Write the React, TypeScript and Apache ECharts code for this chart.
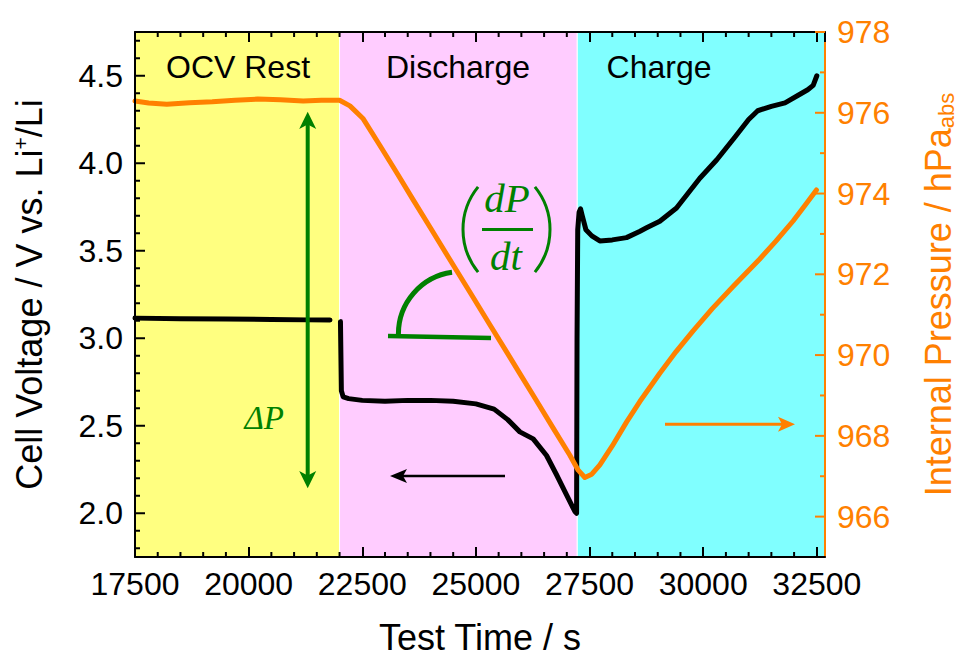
import React, { useEffect, useRef } from "react";
import * as echarts from "echarts";

// ---- data ----
const ocvTime = [17500, 18500, 19500, 20500, 21300, 21790];
const ocvVoltage = [3.115, 3.112, 3.11, 3.107, 3.105, 3.104];

const cycleTime = [
  22020, 22030, 22040, 22080, 22200, 22500, 23000, 23500, 24000, 24500, 25000,
  25400, 25700, 25967, 26260, 26554, 26774, 26994, 27177, 27215, 27225, 27240,
  27270, 27302, 27340, 27420, 27550, 27726, 28000, 28313, 28600, 28754, 29046,
  29413, 29926, 30300, 30700, 31000, 31200, 31500, 31800, 32100, 32300, 32420,
  32500,
];
const cycleVoltage = [
  3.095, 2.9, 2.7, 2.665, 2.655, 2.645, 2.64, 2.645, 2.645, 2.64, 2.625, 2.595,
  2.535, 2.465, 2.425, 2.33, 2.22, 2.105, 2.01, 2.0, 3.0, 3.62, 3.72, 3.74, 3.7,
  3.62, 3.585, 3.556, 3.562, 3.575, 3.61, 3.631, 3.669, 3.744, 3.914, 4.02,
  4.15, 4.25, 4.3, 4.325, 4.345, 4.39, 4.42, 4.445, 4.5,
];

const pressureTime = [
  17500, 17800, 18200, 18700, 19200, 19700, 20200, 20700, 21200, 21600, 22000,
  22228, 22521, 22888, 23255, 23600, 23988, 24500, 24900, 25307, 25675, 25967,
  26300, 26700, 27067, 27250, 27397, 27550, 27727, 28000, 28313, 28606, 29046,
  29400, 29778, 30200, 30658, 31245, 31600, 31978, 32250, 32492,
];
const pressureValue = [
  976.29, 976.24, 976.21, 976.25, 976.27, 976.31, 976.34, 976.32, 976.29,
  976.31, 976.31, 976.17, 975.85, 975.19, 974.52, 973.88, 973.17, 972.23, 971.5,
  970.75, 970.08, 969.54, 968.93, 968.19, 967.52, 967.15, 966.97, 967.05, 967.28,
  967.75, 968.34, 968.85, 969.55, 970.08, 970.6, 971.15, 971.7, 972.38, 972.82,
  973.32, 973.72, 974.09,
];

const bandStarts = [17500, 22000, 27230];
const bandEnds = [22000, 27230, 32680];
const bandNames = ["OCV Rest", "Discharge", "Charge"];
const bandColors = ["#FFFF80", "#FFCCFF", "#80FFFF"];

const xTickLabels = [17500, 20000, 22500, 25000, 27500, 30000, 32500];
const xMinorTicks = [
  18000, 18500, 19000, 19500, 20500, 21000, 21500, 22000, 23000, 23500, 24000,
  24500, 25500, 26000, 26500, 27000, 28000, 28500, 29000, 29500, 30500, 31000,
  31500, 32000,
];
const leftTickLabels = [2.0, 2.5, 3.0, 3.5, 4.0, 4.5];
const leftMinorTicks = [
  1.8, 1.9, 2.1, 2.2, 2.3, 2.4, 2.6, 2.7, 2.8, 2.9, 3.1, 3.2, 3.3, 3.4, 3.6,
  3.7, 3.8, 3.9, 4.1, 4.2, 4.3, 4.4, 4.6, 4.7,
];
const rightTickLabels = [966, 968, 970, 972, 974, 976, 978];
const rightMinorTicks = [967, 969, 971, 973, 975, 977];

const FONT = "'Liberation Sans', Arial, sans-serif";
const MATH = "'Liberation Serif', 'DejaVu Serif', serif";
const ORANGE = "#FF8000";
const GREEN = "#008000";
const MAJOR_LEN = 10;
const MINOR_LEN = 5;

function zip(a: number[], b: number[]) {
  return a.map((v, i) => [v, b[i]]);
}

export default function App() {
  const ref = useRef<HTMLDivElement>(null);
  useEffect(() => {
    if (!ref.current) return;
    const chart = echarts.init(ref.current, null, { renderer: "svg" });

    const X_MIN = 17500;
    const X_MAX = 32680;
    const Y_MIN = 1.75;
    const Y_MAX = 4.75;
    const P_MIN = 965;
    const P_MAX = 978;

    const annotations: any[] = [
      // region labels
      { type: "text", x: 238, y: 67, z: 50, style: { text: bandNames[0], fontFamily: FONT, fontSize: 32, fill: "#000", align: "center", verticalAlign: "middle" } },
      { type: "text", x: 458, y: 67, z: 50, style: { text: bandNames[1], fontFamily: FONT, fontSize: 32, fill: "#000", align: "center", verticalAlign: "middle" } },
      { type: "text", x: 659, y: 67, z: 50, style: { text: bandNames[2], fontFamily: FONT, fontSize: 32, fill: "#000", align: "center", verticalAlign: "middle" } },
      // ΔP double arrow
      { type: "line", z: 50, shape: { x1: 307.7, y1: 124, x2: 307.7, y2: 476 }, style: { stroke: GREEN, lineWidth: 4 } },
      { type: "polygon", z: 50, shape: { points: [[307.7, 111.7], [316.2, 129], [307.7, 124.5], [299.2, 129]] }, style: { fill: GREEN } },
      { type: "polygon", z: 50, shape: { points: [[307.7, 488.3], [316.2, 471], [307.7, 475.5], [299.2, 471]] }, style: { fill: GREEN } },
      { type: "text", x: 284, y: 418, z: 50, style: { text: "ΔP", fontFamily: MATH, fontStyle: "italic", fontSize: 33, fill: GREEN, align: "right", verticalAlign: "middle" } },
      // slope angle
      { type: "line", z: 50, shape: { x1: 388, y1: 336, x2: 491, y2: 338 }, style: { stroke: GREEN, lineWidth: 4.5 } },
      { type: "arc", z: 50, shape: { cx: 460.7, cy: 334, r: 62.3, startAngle: Math.PI, endAngle: (262 * Math.PI) / 180, clockwise: true }, style: { stroke: GREEN, lineWidth: 5, fill: null } },
      // (dP/dt)
      { type: "arc", z: 50, shape: { cx: 530.7, cy: 229.5, r: 67.7, startAngle: (141 * Math.PI) / 180, endAngle: (219 * Math.PI) / 180, clockwise: true }, style: { stroke: GREEN, lineWidth: 3, fill: null } },
      { type: "arc", z: 50, shape: { cx: 482.3, cy: 229.5, r: 67.7, startAngle: (-39 * Math.PI) / 180, endAngle: (39 * Math.PI) / 180, clockwise: true }, style: { stroke: GREEN, lineWidth: 3, fill: null } },
      { type: "text", x: 507, y: 198, z: 50, style: { text: "dP", fontFamily: MATH, fontStyle: "italic", fontSize: 41, fill: GREEN, align: "center", verticalAlign: "middle" } },
      { type: "rect", z: 50, shape: { x: 482, y: 228, width: 51, height: 3 }, style: { fill: GREEN } },
      { type: "text", x: 506, y: 256, z: 50, style: { text: "dt", fontFamily: MATH, fontStyle: "italic", fontSize: 41, fill: GREEN, align: "center", verticalAlign: "middle" } },
      // black arrow (voltage -> left axis)
      { type: "line", z: 50, shape: { x1: 400, y1: 476, x2: 505, y2: 476 }, style: { stroke: "#000", lineWidth: 2.5 } },
      { type: "polygon", z: 50, shape: { points: [[390, 476], [407, 469], [403, 476], [407, 483]] }, style: { fill: "#000" } },
      // orange arrow (pressure -> right axis)
      { type: "line", z: 50, shape: { x1: 665, y1: 424.3, x2: 785, y2: 424.3 }, style: { stroke: ORANGE, lineWidth: 3 } },
      { type: "polygon", z: 50, shape: { points: [[795, 424.3], [778, 416.8], [782, 424.3], [778, 431.8]] }, style: { fill: ORANGE } },
    ];

    const option: any = {
      animation: false,
      backgroundColor: "#fff",
      grid: { left: 135, right: 142, top: 32, bottom: 97, containLabel: false },
      xAxis: [
        {
          type: "value",
          position: "bottom",
          min: X_MIN,
          max: X_MAX,
          interval: 2500,
          z: 10,
          splitLine: { show: false },
          axisLine: { show: true, onZero: false, lineStyle: { color: "#000", width: 2 } },
          axisTick: { show: true, inside: true, length: MAJOR_LEN, lineStyle: { color: "#000", width: 2 } },
          axisLabel: {
            show: true,
            showMaxLabel: false,
            margin: 11,
            fontFamily: FONT,
            fontSize: 32,
            color: "#000",
            formatter: (v: number) => String(v),
          },
          name: "Test Time / s",
          nameLocation: "middle",
          nameGap: 62,
          nameTextStyle: { fontFamily: FONT, fontSize: 36, color: "#000" },
        },
        {
          type: "value",
          position: "top",
          min: X_MIN,
          max: X_MAX,
          interval: 2500,
          z: 10,
          splitLine: { show: false },
          axisLine: { show: true, onZero: false, lineStyle: { color: "#000", width: 2 } },
          axisTick: { show: true, inside: true, length: MAJOR_LEN, lineStyle: { color: "#000", width: 2 } },
          axisLabel: { show: false },
        },
      ],
      yAxis: [
        {
          type: "value",
          position: "left",
          min: Y_MIN,
          max: Y_MAX,
          z: 10,
          splitLine: { show: false },
          axisLine: { show: true, onZero: false, lineStyle: { color: "#000", width: 2 } },
          axisTick: { show: false },
          axisLabel: {
            show: true,
            customValues: leftTickLabels,
            margin: 12,
            fontFamily: FONT,
            fontSize: 32,
            color: "#000",
            formatter: (v: number) => v.toFixed(1),
          },
          name: "Cell Voltage / V vs. Li{sup|+}/Li",
          nameLocation: "middle",
          nameRotate: 90,
          nameGap: 88,
          nameTextStyle: {
            fontFamily: FONT,
            fontSize: 36,
            color: "#000",
            rich: {
              sup: { fontFamily: FONT, fontSize: 21, color: "#000", lineHeight: 21, padding: [0, 0, 18, 0] },
            },
          },
        },
        {
          type: "value",
          position: "right",
          min: P_MIN,
          max: P_MAX,
          z: 10,
          splitLine: { show: false },
          axisLine: { show: true, onZero: false, lineStyle: { color: ORANGE, width: 2 } },
          axisTick: { show: false },
          axisLabel: {
            show: true,
            customValues: rightTickLabels,
            margin: 12,
            fontFamily: FONT,
            fontSize: 32,
            color: ORANGE,
            formatter: (v: number) => String(v),
          },
          name: "Internal Pressure / hPa{sub|abs}",
          nameLocation: "middle",
          nameRotate: 90,
          nameGap: 95,
          nameTextStyle: {
            fontFamily: FONT,
            fontSize: 36,
            color: ORANGE,
            rich: {
              sub: { fontFamily: FONT, fontSize: 22, color: ORANGE, lineHeight: 22, padding: [16, 0, 0, 0] },
            },
          },
        },
      ],
      series: [
        {
          name: "bands",
          type: "line",
          xAxisIndex: 0,
          yAxisIndex: 0,
          data: [[X_MIN, 3]],
          symbol: "none",
          lineStyle: { width: 0 },
          z: 1,
          silent: true,
          markArea: {
            silent: true,
            label: { show: false },
            data: bandStarts.map((s, i) => [
              { xAxis: s, itemStyle: { color: bandColors[i], borderColor: "#fff", borderWidth: 1 } },
              { xAxis: bandEnds[i] },
            ]),
          },
        },
        {
          name: "Cell Voltage (OCV)",
          type: "line",
          xAxisIndex: 0,
          yAxisIndex: 0,
          data: zip(ocvTime, ocvVoltage),
          symbol: "none",
          lineStyle: { color: "#000", width: 5, cap: "round", join: "round" },
          z: 3,
        },
        {
          name: "Cell Voltage",
          type: "line",
          xAxisIndex: 0,
          yAxisIndex: 0,
          data: zip(cycleTime, cycleVoltage),
          symbol: "none",
          lineStyle: { color: "#000", width: 5, cap: "round", join: "round" },
          z: 3,
        },
        {
          name: "Internal Pressure",
          type: "line",
          xAxisIndex: 0,
          yAxisIndex: 1,
          data: zip(pressureTime, pressureValue),
          symbol: "none",
          lineStyle: { color: ORANGE, width: 5, cap: "round", join: "round" },
          z: 4,
        },
      ],
      graphic: annotations,
    };

    chart.setOption(option);

    // inside tick marks, placed through the axes' own scales
    const toNum = (r: any) => (Array.isArray(r) ? r[0] : r) as number;
    const px = (v: number) => toNum(chart.convertToPixel({ xAxisIndex: 0 } as any, v as any));
    const pyL = (v: number) => toNum(chart.convertToPixel({ yAxisIndex: 0 } as any, v as any));
    const pyR = (v: number) => toNum(chart.convertToPixel({ yAxisIndex: 1 } as any, v as any));
    const top = pyL(Y_MAX);
    const bottom = pyL(Y_MIN);
    const left = px(X_MIN);
    const right = px(X_MAX);
    const ticks: any[] = [];
    const blk = { stroke: "#000", lineWidth: 2 };
    const org = { stroke: ORANGE, lineWidth: 2 };
    const ok = (...a: number[]) => a.every((n) => typeof n === "number" && isFinite(n));
    const addX = (v: number, len: number) => {
      const x = px(v);
      if (!ok(x, top, bottom)) return;
      ticks.push({ type: "line", z: 60, silent: true, shape: { x1: x, y1: bottom, x2: x, y2: bottom - len }, style: blk });
      ticks.push({ type: "line", z: 60, silent: true, shape: { x1: x, y1: top, x2: x, y2: top + len }, style: blk });
    };
    xMinorTicks.forEach((v) => addX(v, MINOR_LEN));
    const addL = (v: number, len: number) => {
      const y = pyL(v);
      if (!ok(y, left)) return;
      ticks.push({ type: "line", z: 60, silent: true, shape: { x1: left, y1: y, x2: left + len, y2: y }, style: blk });
    };
    leftTickLabels.forEach((v) => addL(v, MAJOR_LEN));
    leftMinorTicks.forEach((v) => addL(v, MINOR_LEN));
    const addR = (v: number, len: number) => {
      const y = pyR(v);
      if (!ok(y, right)) return;
      ticks.push({ type: "line", z: 60, silent: true, shape: { x1: right, y1: y, x2: right - len, y2: y }, style: org });
    };
    rightTickLabels.forEach((v) => addR(v, MAJOR_LEN));
    rightMinorTicks.forEach((v) => addR(v, MINOR_LEN));

    chart.setOption({ graphic: [...annotations, ...ticks] });

    return () => chart.dispose();
  }, []);

  return (
    <div
      ref={ref}
      style={{ position: "fixed", left: 0, top: 0, width: 967, height: 660 }}
    />
  );
}
